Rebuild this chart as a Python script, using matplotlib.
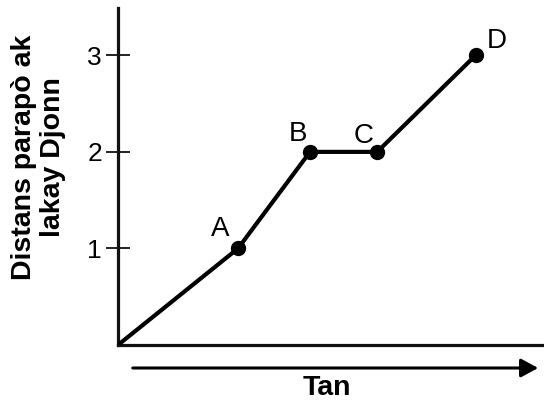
import matplotlib
matplotlib.use("Agg")
import matplotlib.pyplot as plt

# Data
labels = ["", "A", "B", "C", "D"]
times = [0.0, 2.5, 4.0, 5.4, 7.45]
distances = [0.0, 1.0, 2.0, 2.0, 3.0]
yticks = [1, 2, 3]
label_offsets = [(0, 0), (-18, 19), (-12, 18), (-14, 16), (21, 14)]

plt.rcParams['font.family'] = ['Liberation Sans', 'DejaVu Sans']

fig = plt.figure(figsize=(5.44, 4.04), dpi=100)
ax = fig.add_axes([118/544, 59/404, 426/544, 337/404])
ax.set_xlim(0, 8.875)
ax.set_ylim(0, 3.49)

ax.plot(times, distances, color='black', lw=3.0, solid_capstyle='round', zorder=3)
ax.plot(times[1:], distances[1:], 'o', color='black', ms=10, zorder=4)

for lab, x, y, off in zip(labels, times, distances, label_offsets):
    if lab:
        ax.annotate(lab, (x, y), xytext=off, textcoords='offset pixels',
                    ha='center', va='center', fontsize=20, color='black')

for s in ['top', 'right']:
    ax.spines[s].set_visible(False)
for s in ['left', 'bottom']:
    ax.spines[s].set_linewidth(2.3)
    ax.spines[s].set_color('#111111')

ax.set_xticks([])
ax.set_yticks(yticks)
ax.set_yticklabels([str(t) for t in yticks], fontsize=19)
ax.tick_params(axis='y', direction='inout', length=17, width=1.4, color='#222222', pad=3)

# Y label
fig.text(39/544, 1 - 157/404, "Distans parapò ak\nlakay Djonn", rotation=90,
         ha='center', va='center', fontsize=20.5, fontweight='bold', linespacing=1.15)

# X arrow and label
fig.add_artist(matplotlib.patches.FancyArrowPatch((130/544, 1 - 368/404), (541/544, 1 - 368/404),
               transform=fig.transFigure, arrowstyle='-|>,head_length=6.5,head_width=3.5',
               mutation_scale=1.6, color='black', lw=2.2))
fig.text(327/544, 1 - 388/404, "Tan", ha='center', va='center', fontsize=20.5, fontweight='bold')

fig.savefig("out.png", dpi=100)
